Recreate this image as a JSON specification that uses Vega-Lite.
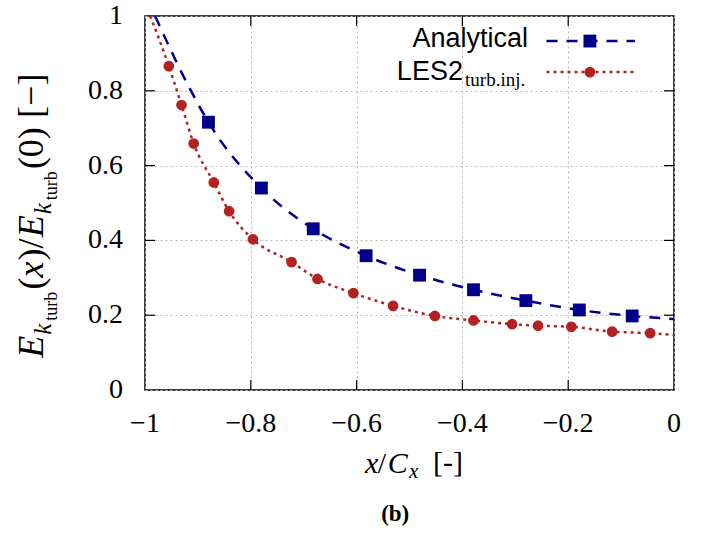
{
  "$schema": "https://vega.github.io/schema/vega-lite/v6.json",
  "width": 529,
  "height": 374,
  "autosize": "none",
  "padding": {"left": 145, "top": 16, "right": 28, "bottom": 144},
  "background": "white",
  "config": {"view": {"stroke": "black", "strokeWidth": 1.5}, "font": "Liberation Serif"},
  "datasets": {
    "les": [
      {"x": -0.955, "y": 0.866}, {"x": -0.931, "y": 0.762}, {"x": -0.908, "y": 0.659}, {"x": -0.870, "y": 0.555},
      {"x": -0.841, "y": 0.478}, {"x": -0.796, "y": 0.403}, {"x": -0.723, "y": 0.342}, {"x": -0.674, "y": 0.297},
      {"x": -0.606, "y": 0.259}, {"x": -0.531, "y": 0.225}, {"x": -0.452, "y": 0.198}, {"x": -0.379, "y": 0.186},
      {"x": -0.306, "y": 0.176}, {"x": -0.257, "y": 0.172}, {"x": -0.194, "y": 0.169}, {"x": -0.117, "y": 0.156},
      {"x": -0.045, "y": 0.152}
    ],
    "les_curve": [
      {"x": -0.99, "y": 1.0},
      {"x": -0.955, "y": 0.866}, {"x": -0.931, "y": 0.762}, {"x": -0.908, "y": 0.659}, {"x": -0.870, "y": 0.555},
      {"x": -0.841, "y": 0.478}, {"x": -0.796, "y": 0.403}, {"x": -0.723, "y": 0.342}, {"x": -0.674, "y": 0.297},
      {"x": -0.606, "y": 0.259}, {"x": -0.531, "y": 0.225}, {"x": -0.452, "y": 0.198}, {"x": -0.379, "y": 0.186},
      {"x": -0.306, "y": 0.176}, {"x": -0.257, "y": 0.172}, {"x": -0.194, "y": 0.169}, {"x": -0.117, "y": 0.156},
      {"x": -0.045, "y": 0.152}, {"x": 0.0, "y": 0.147}
    ],
    "analytical": [
      {"x": -0.880, "y": 0.716}, {"x": -0.780, "y": 0.540}, {"x": -0.682, "y": 0.431}, {"x": -0.582, "y": 0.359},
      {"x": -0.481, "y": 0.307}, {"x": -0.379, "y": 0.268}, {"x": -0.280, "y": 0.239}, {"x": -0.179, "y": 0.214},
      {"x": -0.079, "y": 0.198}
    ],
    "ana_curve": [
      {"x": -0.981, "y": 1.0}, {"x": -0.915, "y": 0.805},
      {"x": -0.880, "y": 0.716}, {"x": -0.780, "y": 0.540}, {"x": -0.682, "y": 0.431}, {"x": -0.582, "y": 0.359},
      {"x": -0.481, "y": 0.307}, {"x": -0.379, "y": 0.268}, {"x": -0.280, "y": 0.239}, {"x": -0.179, "y": 0.214},
      {"x": -0.079, "y": 0.198}, {"x": 0.0, "y": 0.190}
    ],
    "xticks": [{"t": -0.8}, {"t": -0.6}, {"t": -0.4}, {"t": -0.2}],
    "yticks": [{"t": 0.2}, {"t": 0.4}, {"t": 0.6}, {"t": 0.8}],
    "xlabels": [{"v": -1}, {"v": -0.8}, {"v": -0.6}, {"v": -0.4}, {"v": -0.2}, {"v": 0}],
    "ylabels": [{"v": 0}, {"v": 0.2}, {"v": 0.4}, {"v": 0.6}, {"v": 0.8}, {"v": 1}]
  },
  "layer": [
    {
      "data": {"name": "les_curve"},
      "mark": {"type": "line", "color": "#B22222", "strokeWidth": 2.5, "strokeDash": [3, 4], "interpolate": "monotone", "clip": true},
      "encoding": {
        "x": {"field": "x", "type": "quantitative", "scale": {"domain": [-1, 0], "nice": false, "zero": false},
          "axis": {"orient": "bottom", "values": [-1, -0.8, -0.6, -0.4, -0.2, 0],
            "domain": false, "ticks": false, "labels": false,
            "grid": true, "gridColor": "#b8b8b8", "gridDash": [2, 3], "gridWidth": 1, "title": null}},
        "y": {"field": "y", "type": "quantitative", "scale": {"domain": [0, 1], "nice": false, "zero": false},
          "axis": {"orient": "left", "values": [0, 0.2, 0.4, 0.6, 0.8, 1],
            "domain": false, "ticks": false, "labels": false,
            "grid": true, "gridColor": "#b8b8b8", "gridDash": [2, 3], "gridWidth": 1, "title": null}}
      }
    },
    {
      "data": {"name": "xlabels"},
      "mark": {"type": "text", "font": "Liberation Serif", "fontSize": 28, "align": "center", "baseline": "middle", "color": "black"},
      "encoding": {"x": {"field": "v", "type": "quantitative"}, "y": {"datum": -0.0913}, "text": {"field": "v", "type": "quantitative", "format": "~g"}}
    },
    {
      "data": {"name": "ylabels"},
      "mark": {"type": "text", "font": "Liberation Serif", "fontSize": 28, "align": "right", "baseline": "middle", "color": "black"},
      "encoding": {"y": {"field": "v", "type": "quantitative"}, "x": {"datum": -1.0416}, "text": {"field": "v", "type": "quantitative", "format": "~g"}}
    },
    {
      "data": {"name": "xticks"},
      "mark": {"type": "rule", "color": "black", "strokeWidth": 1.2},
      "encoding": {"x": {"field": "t", "type": "quantitative"}, "y": {"datum": 0}, "y2": {"datum": 0.027}}
    },
    {
      "data": {"name": "xticks"},
      "mark": {"type": "rule", "color": "black", "strokeWidth": 1.2},
      "encoding": {"x": {"field": "t", "type": "quantitative"}, "y": {"datum": 0.973}, "y2": {"datum": 1}}
    },
    {
      "data": {"name": "yticks"},
      "mark": {"type": "rule", "color": "black", "strokeWidth": 1.2},
      "encoding": {"y": {"field": "t", "type": "quantitative"}, "x": {"datum": -1}, "x2": {"datum": -0.981}}
    },
    {
      "data": {"name": "yticks"},
      "mark": {"type": "rule", "color": "black", "strokeWidth": 1.2},
      "encoding": {"y": {"field": "t", "type": "quantitative"}, "x": {"datum": -0.019}, "x2": {"datum": 0}}
    },
    {
      "data": {"name": "ana_curve"},
      "mark": {"type": "line", "color": "#00008B", "strokeWidth": 2.5, "strokeDash": [11, 9], "interpolate": "monotone", "clip": true},
      "encoding": {"x": {"field": "x", "type": "quantitative"}, "y": {"field": "y", "type": "quantitative"}}
    },
    {
      "data": {"name": "les"},
      "mark": {"type": "point", "shape": "circle", "filled": true, "size": 115, "color": "#B22222", "opacity": 1},
      "encoding": {"x": {"field": "x", "type": "quantitative"}, "y": {"field": "y", "type": "quantitative"}}
    },
    {
      "data": {"name": "analytical"},
      "mark": {"type": "point", "shape": "square", "filled": true, "size": 165, "color": "#00008B", "opacity": 1},
      "encoding": {"x": {"field": "x", "type": "quantitative"}, "y": {"field": "y", "type": "quantitative"}}
    },
    {
      "data": {"values": [{}]},
      "mark": {"type": "rule", "color": "#00008B", "strokeWidth": 2.5, "strokeDash": [11, 9]},
      "encoding": {"x": {"datum": -0.241}, "x2": {"datum": -0.074}, "y": {"datum": 0.933}}
    },
    {
      "data": {"values": [{}]},
      "mark": {"type": "point", "shape": "square", "filled": true, "size": 165, "color": "#00008B", "opacity": 1},
      "encoding": {"x": {"datum": -0.159}, "y": {"datum": 0.933}}
    },
    {
      "data": {"values": [{}]},
      "mark": {"type": "rule", "color": "#B22222", "strokeWidth": 2.5, "strokeDash": [3, 4]},
      "encoding": {"x": {"datum": -0.241}, "x2": {"datum": -0.074}, "y": {"datum": 0.850}}
    },
    {
      "data": {"values": [{}]},
      "mark": {"type": "point", "shape": "circle", "filled": true, "size": 115, "color": "#B22222", "opacity": 1},
      "encoding": {"x": {"datum": -0.159}, "y": {"datum": 0.850}}
    },
    {
      "data": {"values": [{}]},
      "mark": {"type": "text", "text": "Analytical", "font": "Liberation Sans", "fontSize": 27, "align": "right", "baseline": "alphabetic", "color": "black"},
      "encoding": {"x": {"datum": -0.276}, "y": {"datum": 0.917}}
    },
    {
      "data": {"values": [{}]},
      "mark": {"type": "text", "text": "LES2", "font": "Liberation Sans", "fontSize": 27, "align": "right", "baseline": "alphabetic", "color": "black"},
      "encoding": {"x": {"datum": -0.399}, "y": {"datum": 0.830}}
    },
    {
      "data": {"values": [{}]},
      "mark": {"type": "text", "text": "turb.inj.", "font": "Liberation Serif", "fontSize": 19, "align": "left", "baseline": "alphabetic", "color": "black"},
      "encoding": {"x": {"datum": -0.395}, "y": {"datum": 0.813}}
    },
    {
      "data": {"values": [{}]},
      "mark": {"type": "text", "text": "x", "font": "Liberation Serif", "fontStyle": "italic", "fontSize": 30, "align": "left", "baseline": "alphabetic", "color": "black"},
      "encoding": {"x": {"datum": -0.584}, "y": {"datum": -0.223}}
    },
    {
      "data": {"values": [{}]},
      "mark": {"type": "text", "text": "/", "font": "Liberation Serif", "fontSize": 30, "align": "left", "baseline": "alphabetic", "color": "black"},
      "encoding": {"x": {"datum": -0.560}, "y": {"datum": -0.223}}
    },
    {
      "data": {"values": [{}]},
      "mark": {"type": "text", "text": "C", "font": "Liberation Serif", "fontStyle": "italic", "fontSize": 30, "align": "left", "baseline": "alphabetic", "color": "black"},
      "encoding": {"x": {"datum": -0.541}, "y": {"datum": -0.223}}
    },
    {
      "data": {"values": [{}]},
      "mark": {"type": "text", "text": "x", "font": "Liberation Serif", "fontStyle": "italic", "fontSize": 21, "align": "left", "baseline": "alphabetic", "color": "black"},
      "encoding": {"x": {"datum": -0.5009}, "y": {"datum": -0.236}}
    },
    {
      "data": {"values": [{}]},
      "mark": {"type": "text", "text": "[-]", "font": "Liberation Serif", "fontSize": 30, "align": "left", "baseline": "alphabetic", "color": "black"},
      "encoding": {"x": {"datum": -0.4556}, "y": {"datum": -0.218}}
    },
    {
      "data": {"values": [{}]},
      "mark": {"type": "text", "text": "(b)", "font": "Liberation Serif", "fontWeight": "bold", "fontSize": 23, "align": "center", "baseline": "alphabetic", "color": "black"},
      "encoding": {"x": {"datum": -0.527}, "y": {"datum": -0.349}}
    },
    {
      "data": {"values": [{}]},
      "mark": {"type": "text", "text": "E", "angle": 270, "font": "Liberation Serif", "fontStyle": "italic", "fontSize": 36, "align": "left", "baseline": "alphabetic", "color": "black"},
      "encoding": {"x": {"datum": -1.1928}, "y": {"datum": 0.0859}}
    },
    {
      "data": {"values": [{}]},
      "mark": {"type": "text", "text": "k", "angle": 270, "font": "Liberation Serif", "fontStyle": "italic", "fontSize": 25, "align": "left", "baseline": "alphabetic", "color": "black"},
      "encoding": {"x": {"datum": -1.1777}, "y": {"datum": 0.1477}}
    },
    {
      "data": {"values": [{}]},
      "mark": {"type": "text", "text": "turb", "angle": 270, "font": "Liberation Serif", "fontSize": 18, "align": "left", "baseline": "alphabetic", "color": "black"},
      "encoding": {"x": {"datum": -1.1664}, "y": {"datum": 0.1852}}
    },
    {
      "data": {"values": [{}]},
      "mark": {"type": "text", "text": "(", "angle": 270, "font": "Liberation Serif", "fontSize": 36, "align": "left", "baseline": "alphabetic", "color": "black"},
      "encoding": {"x": {"datum": -1.1928}, "y": {"datum": 0.2685}}
    },
    {
      "data": {"values": [{}]},
      "mark": {"type": "text", "text": "x", "angle": 270, "font": "Liberation Serif", "fontStyle": "italic", "fontSize": 36, "align": "left", "baseline": "alphabetic", "color": "black"},
      "encoding": {"x": {"datum": -1.1928}, "y": {"datum": 0.3007}}
    },
    {
      "data": {"values": [{}]},
      "mark": {"type": "text", "text": ")/", "angle": 270, "font": "Liberation Serif", "fontSize": 36, "align": "left", "baseline": "alphabetic", "color": "black"},
      "encoding": {"x": {"datum": -1.1928}, "y": {"datum": 0.3463}}
    },
    {
      "data": {"values": [{}]},
      "mark": {"type": "text", "text": "E", "angle": 270, "font": "Liberation Serif", "fontStyle": "italic", "fontSize": 36, "align": "left", "baseline": "alphabetic", "color": "black"},
      "encoding": {"x": {"datum": -1.1928}, "y": {"datum": 0.4081}}
    },
    {
      "data": {"values": [{}]},
      "mark": {"type": "text", "text": "k", "angle": 270, "font": "Liberation Serif", "fontStyle": "italic", "fontSize": 25, "align": "left", "baseline": "alphabetic", "color": "black"},
      "encoding": {"x": {"datum": -1.1777}, "y": {"datum": 0.4698}}
    },
    {
      "data": {"values": [{}]},
      "mark": {"type": "text", "text": "turb", "angle": 270, "font": "Liberation Serif", "fontSize": 18, "align": "left", "baseline": "alphabetic", "color": "black"},
      "encoding": {"x": {"datum": -1.1664}, "y": {"datum": 0.5074}}
    },
    {
      "data": {"values": [{}]},
      "mark": {"type": "text", "text": "(0)", "angle": 270, "font": "Liberation Serif", "fontSize": 36, "align": "left", "baseline": "alphabetic", "color": "black"},
      "encoding": {"x": {"datum": -1.1928}, "y": {"datum": 0.5906}}
    },
    {
      "data": {"values": [{}]},
      "mark": {"type": "text", "text": "[−]", "angle": 270, "font": "Liberation Serif", "fontSize": 36, "align": "left", "baseline": "alphabetic", "color": "black"},
      "encoding": {"x": {"datum": -1.1928}, "y": {"datum": 0.7275}}
    }
  ]
}
